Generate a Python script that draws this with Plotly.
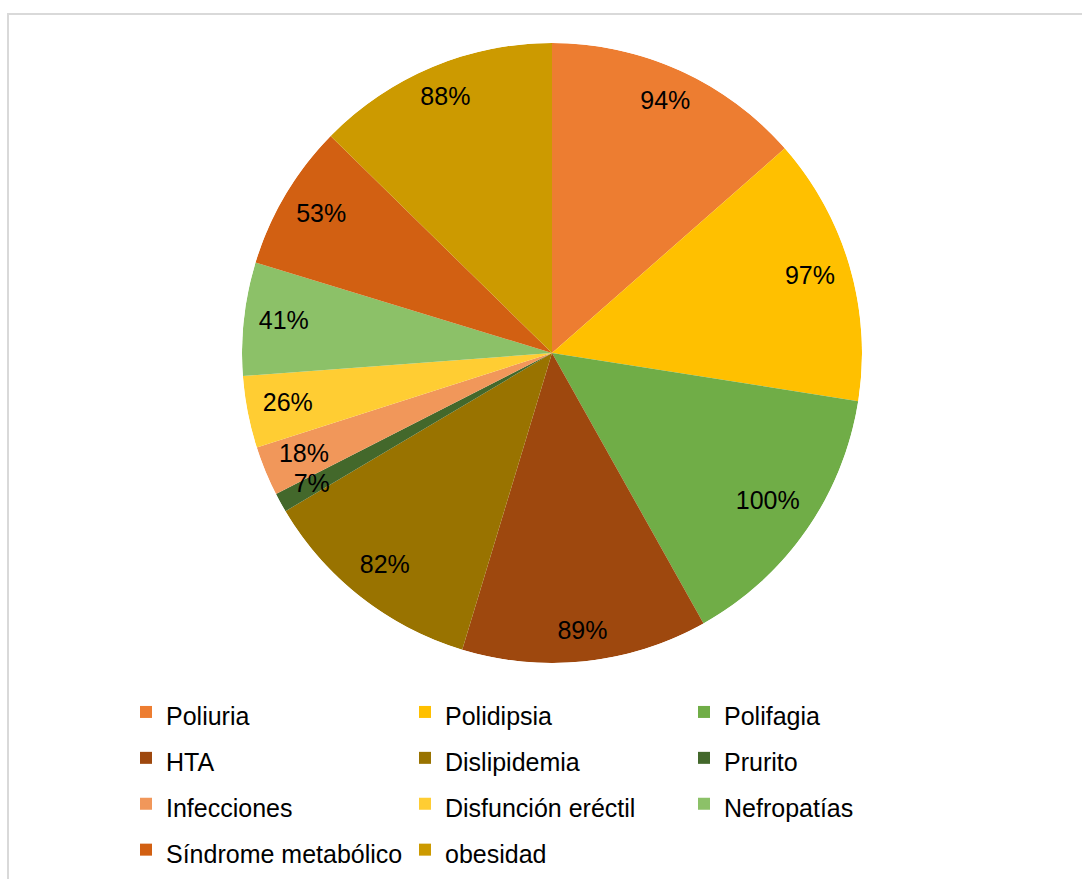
import numpy as np
import plotly.graph_objects as go

labels = ["Poliuria", "Polidipsia", "Polifagia", "HTA", "Dislipidemia", "Prurito",
          "Infecciones", "Disfunción eréctil", "Nefropatías", "Síndrome metabólico", "obesidad"]
values = [94, 97, 100, 89, 82, 7, 18, 26, 41, 53, 88]
colors = ["#ED7D31", "#FFC000", "#70AD47", "#9E480E", "#997300", "#43682B",
          "#F1975A", "#FFCD33", "#8CC168", "#D26012", "#CC9A00"]

W, H = 1082, 879
cx, cy, r = 552, 353, 310
dom = dict(x=[(cx - r) / W, (cx + r) / W], y=[1 - (cy + r) / H, 1 - (cy - r) / H])
FONT_SIZE = 25
INSET = 14  # px gap between label box and pie edge (inside-end placement)

vals = np.array(values, dtype=float)
span = vals / vals.sum() * 360.0
mid_theta = np.cumsum(span) - span / 2
texts = [f"{v}%" for v in values]

# inside-end label placement: pull each label's box in from the rim
half_w = np.array([0.5 * (len(t) - 1) * 0.556 * FONT_SIZE + 0.5 * 0.889 * FONT_SIZE for t in texts])
half_h = 12.0
rad = np.deg2rad(mid_theta)
extent = half_w * np.abs(np.sin(rad)) + half_h * np.abs(np.cos(rad))
label_r = (r - INSET - extent) / r

fig = go.Figure()
for lab, v, col, th, w in zip(labels, values, colors, mid_theta, span):
    fig.add_trace(go.Barpolar(
        r=[1], theta=[th], width=[w], base=0,
        name=f"<span style='font-size:25px'>{lab}</span>",
        marker=dict(color=col, line=dict(width=0)),
        hovertemplate=f"{lab}: {v}%<extra></extra>",
    ))
fig.add_trace(go.Scatterpolar(
    r=label_r,
    theta=mid_theta,
    mode="text",
    text=texts,
    textfont=dict(family="Liberation Sans, Arial", size=FONT_SIZE, color="black"),
    showlegend=False,
    hoverinfo="skip",
))

fig.update_layout(
    width=W, height=H,
    margin=dict(l=0, r=0, t=0, b=0, autoexpand=False),
    paper_bgcolor="white",
    font=dict(family="Liberation Sans, Arial", color="black"),
    polar=dict(
        domain=dom,
        bgcolor="rgba(0,0,0,0)",
        bargap=0,
        radialaxis=dict(range=[0, 1], visible=False, showgrid=False),
        angularaxis=dict(rotation=90, direction="clockwise", visible=False, showgrid=False),
    ),
    legend=dict(
        orientation="h",
        x=126 / W, xanchor="left",
        y=1 - 684 / H, yanchor="top",
        entrywidth=234, entrywidthmode="pixels",
        font=dict(size=33, family="Liberation Sans, Arial"),
        valign="middle",
        traceorder="normal",
    ),
    showlegend=True,
    shapes=[dict(type="rect", xref="paper", yref="paper",
                 x0=8 / W, x1=1.05, y0=-0.05, y1=1 - 14 / H,
                 line=dict(color="#D9D9D9", width=2), fillcolor="rgba(0,0,0,0)", layer="below")],
)

fig.write_html("out.html")
